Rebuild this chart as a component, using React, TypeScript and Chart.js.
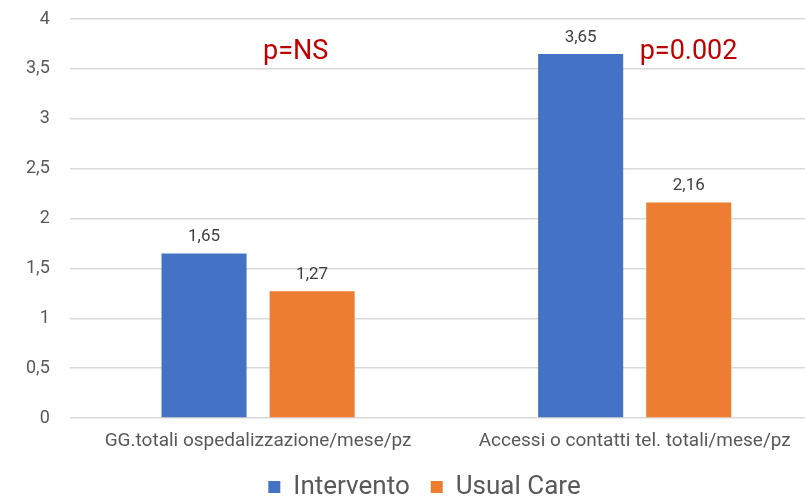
import React, { useEffect, useRef } from "react";
import { Chart, registerables } from "chart.js";

Chart.register(...registerables);

const categories = ["GG.totali ospedalizzazione/mese/pz", "Accessi o contatti tel. totali/mese/pz"];
const seriesNames = ["Intervento", "Usual Care"];
const intervento = [1.65, 3.65];
const usualCare = [1.27, 2.16];
const seriesColors = ["#4472C4", "#ED7D31"];
const yTicks = [0, 0.5, 1, 1.5, 2, 2.5, 3, 3.5, 4];
const annotations = [
  { text: "p=NS", x: 0.1, y: 3.67 },
  { text: "p=0.002", x: 0.143, y: 3.67 },
];
const annotationCategory = [0, 1];

const FONT = "Roboto, 'Open Sans', sans-serif";
const fmt = (v: number) => String(v).replace(".", ",");

const extrasPlugin = {
  id: "extras",
  afterDatasetsDraw(chart: any) {
    const ctx = chart.ctx;
    ctx.save();
    ctx.font = `17px ${FONT}`;
    ctx.fillStyle = "#404040";
    ctx.textAlign = "center";
    ctx.textBaseline = "bottom";
    chart.data.datasets.forEach((ds: any, di: number) => {
      const meta = chart.getDatasetMeta(di);
      meta.data.forEach((bar: any, i: number) => {
        ctx.fillText(fmt(ds.data[i]), bar.x, bar.y - 8);
      });
    });
    const xs = chart.scales.x;
    const ys = chart.scales.y;
    ctx.font = `27px ${FONT}`;
    ctx.fillStyle = "#C00000";
    ctx.textBaseline = "middle";
    annotations.forEach((a, i) => {
      const px = xs.getPixelForValue(annotationCategory[i] + a.x);
      const py = ys.getPixelForValue(a.y);
      ctx.fillText(a.text, px, py);
    });
    ctx.restore();
  },
};

export default function App() {
  const ref = useRef<HTMLCanvasElement>(null);
  useEffect(() => {
    if (!ref.current) return;
    const chart = new Chart(ref.current, {
      type: "bar",
      data: {
        labels: categories,
        datasets: [
          { label: seriesNames[0], data: intervento, backgroundColor: seriesColors[0] },
          { label: seriesNames[1], data: usualCare, backgroundColor: seriesColors[1] },
        ],
      },
      options: {
        animation: false,
        responsive: false,
        devicePixelRatio: 1,
        layout: { padding: { top: 19, left: 26, right: 39, bottom: -12 } },
        datasets: { bar: { categoryPercentage: 0.574, barPercentage: 0.787 } },
        plugins: {
          legend: {
            position: "bottom",
            labels: {
              boxWidth: 12,
              boxHeight: 12,
              padding: 21,
              color: "#595959",
              font: { family: FONT, size: 26 },
            },
          },
          tooltip: { enabled: false },
        },
        scales: {
          x: {
            grid: { display: false, drawTicks: false },
            border: { display: false },
            ticks: { color: "#595959", font: { family: FONT, size: 19 }, padding: 12, maxRotation: 0, autoSkip: false },
            afterFit: (axis: any) => {
              axis.height = 35;
            },
          },
          y: {
            min: 0,
            max: 4,
            afterBuildTicks: (axis: any) => {
              axis.ticks = yTicks.map((v) => ({ value: v }));
            },
            grid: { color: "#D9D9D9", lineWidth: 1.5, drawTicks: true, tickLength: 20, tickColor: "rgba(0,0,0,0)" },
            border: { display: false },
            ticks: {
              color: "#595959",
              font: { family: FONT, size: 18 },
              padding: 0,
              callback: (v: any) => fmt(Number(v)),
            },
          },
        },
      },
      plugins: [extrasPlugin],
    });
    return () => chart.destroy();
  }, []);
  return (
    <div style={{ position: "fixed", left: 0, top: 0, width: 805, height: 498, overflow: "hidden", background: "#fff" }}>
      <canvas ref={ref} width={862} height={498} style={{ display: "block" }} />
    </div>
  );
}
